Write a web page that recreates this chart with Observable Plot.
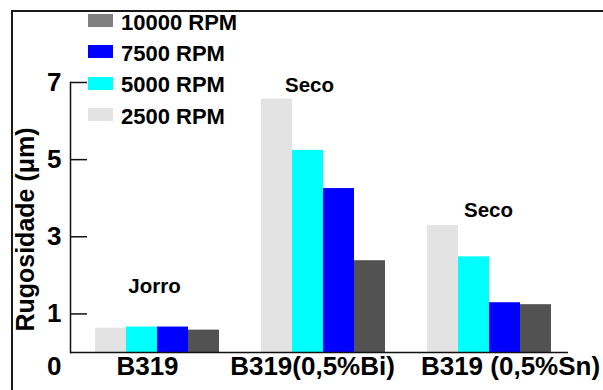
<!DOCTYPE html>
<html>
<head>
<meta charset="utf-8">
<script src="https://cdn.jsdelivr.net/npm/d3@7"></script>
<script src="https://cdn.jsdelivr.net/npm/@observablehq/plot@0.6"></script>
<style>
  html, body { margin: 0; padding: 0; background: #fff; }
  #wrap { position: relative; width: 603px; height: 390px; overflow: hidden; font-family: "Liberation Sans", Arial, sans-serif; }
  #wrap svg { position: absolute; left: 0; top: 0; }
  .box { position: absolute; left: 11px; top: 10px; width: 700px; height: 500px;
         border-top: 2px solid #1a1a1a; border-left: 2px solid #1a1a1a; pointer-events: none; }
  .legend { position: absolute; left: 88px; top: 5px; }
  .legend .row { display: flex; align-items: center; height: 31.3px; }
  .legend .sw { width: 25px; height: 13px; margin-right: 8px; }
  .legend .lab { font-size: 22px; font-weight: bold; line-height: 1; color: #000; padding-top: 4px; }
</style>
</head>
<body>
<div id="wrap"></div>
<script>
// Sample groups and spindle speeds
const groups = ["B319", "B319(0,5%Bi)", "B319 (0,5%Sn)"];
const series = ["2500 RPM", "5000 RPM", "7500 RPM", "10000 RPM"];

// Roughness (µm) per speed, one value per sample group
const rpm2500 = [0.63, 6.57, 3.29];
const rpm5000 = [0.66, 5.24, 2.48];
const rpm7500 = [0.66, 4.25, 1.29];
const rpm10000 = [0.58, 2.38, 1.24];

const yTicks = [1, 3, 5, 7];

// Cooling condition notes above each group
const notes = ["Jorro", "Seco", "Seco"];
const noteGroups = ["B319", "B319(0,5%Bi)", "B319 (0,5%Sn)"];
const noteValues = [1.72, 6.93, 3.68];

// Colours
const barColors = ["#e3e3e3", "#00ffff", "#0000ff", "#525252"];
const legendColors = ["#808080", "#0000ff", "#00ffff", "#e3e3e3"];
const legendOrder = ["10000 RPM", "7500 RPM", "5000 RPM", "2500 RPM"];

// Small horizontal nudges for hand-placed labels
const groupLabelDx = [-6, -7, 25];
const noteDx = [1, -10, 3];

const font = '"Liberation Sans", Arial, sans-serif';
const valuesBySeries = [rpm2500, rpm5000, rpm7500, rpm10000];
const rows = series.flatMap((s, k) =>
  groups.map((g, i) => ({group: g, rpm: s, value: valuesBySeries[k][i]}))
);

const chart = Plot.plot({
  width: 603,
  height: 390,
  marginLeft: 69,
  marginRight: 35,
  marginTop: 82,
  marginBottom: 38,
  style: {fontFamily: font, background: "transparent", color: "#000"},
  fx: {domain: groups, padding: 0, axis: null},
  x: {domain: series, padding: 0, insetLeft: 24, insetRight: 17, axis: null},
  y: {domain: [0, 7]},
  color: {domain: series, range: barColors},
  marks: [
    Plot.barY(rows, {fx: "group", x: "rpm", y: "value", fill: "rpm"}),
    Plot.ruleY([0], {stroke: "#111", strokeWidth: 1.5}),
    Plot.frame({anchor: "left", facetAnchor: "left", stroke: "#111", strokeWidth: 1.5}),
    Plot.axisY({ticks: yTicks, tickSize: -17, tickPadding: 26, tickFormat: d => String(d),
      fontSize: 26, fontWeight: "bold", label: null, stroke: "#111", strokeWidth: 1.5}),
    Plot.axisY({ticks: [0], tickSize: 0, tickPadding: 9, dy: 14, tickFormat: d => String(d),
      fontSize: 26, fontWeight: "bold", label: null}),
    Plot.text(["Rugosidade (μm)"], {frameAnchor: "left", facetAnchor: "left", rotate: -90,
      textAnchor: "middle", dx: -45, dy: 12, fontSize: 25, fontWeight: "bold", fill: "#000"}),
    ...groups.map((g, i) => Plot.text([g], {fx: d => d, text: d => d, frameAnchor: "bottom",
      dy: 22, dx: groupLabelDx[i], fontSize: 26, fontWeight: "bold", fill: "#000"})),
    ...notes.map((n, i) => Plot.text([i], {fx: d => noteGroups[d], y: d => noteValues[d],
      text: d => notes[d], dx: noteDx[i], fontSize: 20.5, fontWeight: "bold", fill: "#000"}))
  ]
});

const wrap = document.getElementById("wrap");
wrap.appendChild(chart);

const box = document.createElement("div");
box.className = "box";
wrap.appendChild(box);

const legend = document.createElement("div");
legend.className = "legend";
legendOrder.forEach((s, i) => {
  const row = document.createElement("div");
  row.className = "row";
  const sw = document.createElement("div");
  sw.className = "sw";
  sw.style.background = legendColors[i];
  const lab = document.createElement("span");
  lab.className = "lab";
  lab.textContent = s;
  row.appendChild(sw);
  row.appendChild(lab);
  legend.appendChild(row);
});
wrap.appendChild(legend);
</script>
</body>
</html>
